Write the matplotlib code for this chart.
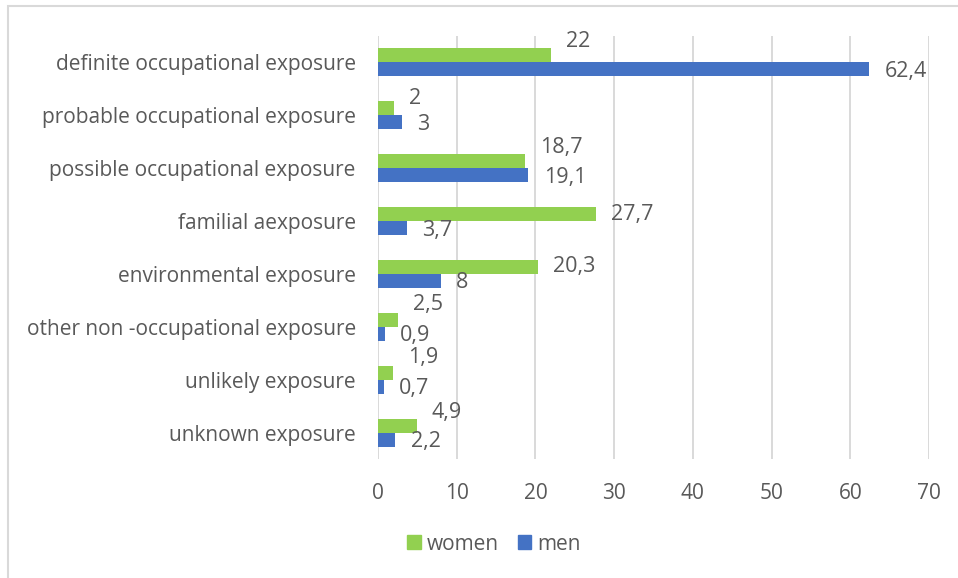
import matplotlib
matplotlib.use('Agg')
import matplotlib.pyplot as plt
from matplotlib.patches import Rectangle, Patch
import numpy as np

categories = ["definite occupational exposure", "probable occupational exposure",
              "possible occupational exposure", "familial aexposure",
              "environmental exposure", "other non -occupational exposure",
              "unlikely exposure", "unknown exposure"]
women = [22, 2, 18.7, 27.7, 20.3, 2.5, 1.9, 4.9]
men = [62.4, 3, 19.1, 3.7, 8, 0.9, 0.7, 2.2]
x_ticks = [0, 10, 20, 30, 40, 50, 60, 70]
series_names = ["women", "men"]

# style
GREEN = '#92D050'
BLUE = '#4472C4'
TXT = '#595959'
GRID = '#d9d9d9'
FONT = 'Open Sans'
FS = 15
FS_LBL = 15.5
women_lbl_up_px = [14, 10, 14, 0, 0, 15, 15, 13]
men_lbl_down_px = 2

plt.rcParams['font.family'] = [FONT, 'DejaVu Sans']

W, H = 958, 578
fig = plt.figure(figsize=(W / 100, H / 100), dpi=100)
fig.patch.set_facecolor('white')
ax = fig.add_axes([378 / W, 1 - 459 / H, (929 - 378) / W, (459 - 36) / H])

n = len(categories)
y = np.arange(n)
bh = 14 / 53
ax.barh(y - bh / 2, women, height=bh, color=GREEN, zorder=3)
ax.barh(y + bh / 2, men, height=bh, color=BLUE, zorder=3)

ax.set_xlim(0, 70)
ax.set_ylim(n - 0.5, -0.5)
ax.set_xticks(x_ticks)
ax.set_xticklabels([str(t) for t in x_ticks])
ax.set_yticks(y)
ax.set_yticklabels(categories)
ax.tick_params(axis='both', length=0, labelsize=FS, labelcolor=TXT)
ax.tick_params(axis='x', pad=17)
ax.tick_params(axis='y', pad=16)
ax.grid(axis='x', color=GRID, lw=1.4, zorder=0)
ax.set_axisbelow(True)
for s in ax.spines.values():
    s.set_visible(False)


def fmt(v):
    s = ('%g' % v).replace('.', ',')
    return s


for i in range(n):
    ax.annotate(fmt(women[i]), xy=(women[i], y[i] - bh / 2),
                xytext=(11, women_lbl_up_px[i] * 0.72), textcoords='offset points',
                ha='left', va='center', fontsize=FS_LBL, color=TXT, zorder=4)
    ax.annotate(fmt(men[i]), xy=(men[i], y[i] + bh / 2),
                xytext=(11, -men_lbl_down_px * 0.72), textcoords='offset points',
                ha='left', va='center', fontsize=FS_LBL, color=TXT, zorder=4)

handles = [Patch(color=GREEN, label=series_names[0]), Patch(color=BLUE, label=series_names[1])]
leg = fig.legend(handles=handles, loc='center', bbox_to_anchor=(494 / W, 1 - 544 / H),
                 ncol=2, frameon=False, handlelength=0.65, handleheight=0.65,
                 columnspacing=0.9, handletextpad=0.3, fontsize=FS,
                 borderpad=0, borderaxespad=0)
for t in leg.get_texts():
    t.set_color(TXT)

fig.patches.append(Rectangle((8 / W, -0.1), 1.2, (1 - 6 / H) + 0.1, transform=fig.transFigure,
                             fill=False, edgecolor=GRID, lw=1.5))

fig.savefig('out.png', dpi=100, facecolor='white')
